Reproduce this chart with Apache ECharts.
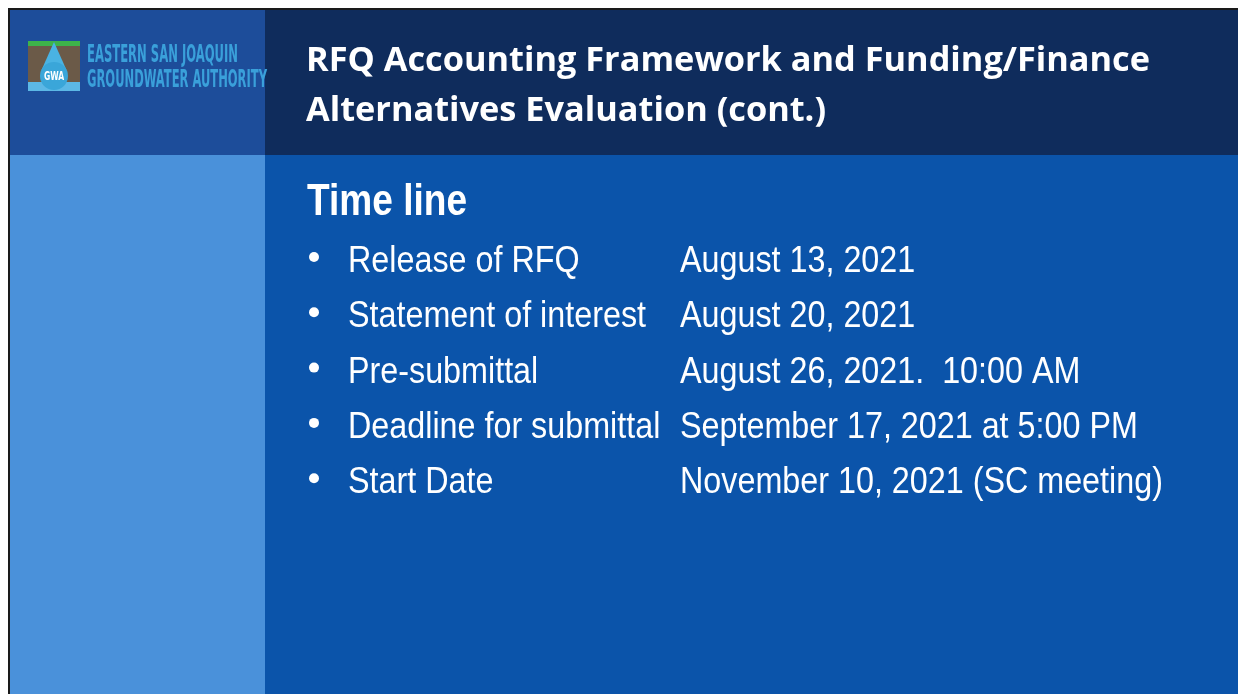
<!DOCTYPE html>
<html><head><meta charset="utf-8">
<script src="https://cdn.jsdelivr.net/npm/echarts@6/dist/echarts.min.js"></script>
<style>html,body{margin:0;padding:0;background:#fff}#c{width:1238px;height:694px}</style>
</head><body><div id="c"></div>
<script>
const titleLines = ['RFQ Accounting Framework and Funding/Finance', 'Alternatives Evaluation (cont.)'];
const orgLines = ['EASTERN SAN JOAQUIN', 'GROUNDWATER AUTHORITY'];
const heading = 'Time line';
const items = ['Release of RFQ', 'Statement of interest', 'Pre-submittal', 'Deadline for submittal', 'Start Date'];
const dates = ['August 13, 2021', 'August 20, 2021', 'August 26, 2021.  10:00 AM', 'September 17, 2021 at 5:00 PM', 'November 10, 2021 (SC meeting)'];

const ctx = document.createElement('canvas').getContext('2d');
function measure(text, font){ ctx.font = font; return ctx.measureText(text).width; }

const chart = echarts.init(document.getElementById('c'), null, {renderer: 'canvas'});
const g = [];
// frame
g.push({type:'rect', shape:{x:8,y:8,width:1232,height:688}, style:{fill:'#1a1a1a'}});
g.push({type:'rect', shape:{x:10,y:10,width:255,height:145}, style:{fill:'#1d4d9a'}});
g.push({type:'rect', shape:{x:265,y:10,width:975,height:145}, style:{fill:'#0f2c5c'}});
g.push({type:'rect', shape:{x:10,y:155,width:255,height:541}, style:{fill:'#4a91da'}});
g.push({type:'rect', shape:{x:265,y:155,width:975,height:541}, style:{fill:'#0b54aa'}});
// logo
g.push({type:'rect', shape:{x:28,y:41,width:52,height:50}, style:{fill:'#6b5a48'}});
g.push({type:'rect', shape:{x:28,y:41,width:52,height:5}, style:{fill:'#3db34a'}});
g.push({type:'rect', shape:{x:28,y:82,width:52,height:9}, style:{fill:'#5cb8e6'}});
g.push({type:'polygon', shape:{points:[[54,42],[41.5,70],[66.5,70]]}, style:{fill:'#4ab3e3'}});
g.push({type:'circle', shape:{cx:54, cy:76, r:14}, style:{fill:'#3aa6d9'}});
g.push({type:'text', x:54, y:77, scaleX:0.85, scaleY:1.2, style:{text:'GWA', x:0, y:0, align:'center', verticalAlign:'middle', font:'bold 10px "DejaVu Sans Condensed", sans-serif', fill:'#ffffff'}});
const orgFont = 'bold 24px "DejaVu Sans Condensed", sans-serif';
const orgTargets = [151, 180];
orgLines.forEach((t,i)=>{
  const sx = orgTargets[i] / measure(t, orgFont);
  g.push({type:'text', x:87, y:[56, 81][i], scaleX:sx, style:{text:t, x:0, y:0, verticalAlign:'middle', font:orgFont, fill:'#3aa0da'}});
});
// title
const titleFont = 'bold 34px "Open Sans", sans-serif';
const tsx = 844 / measure(titleLines[0], titleFont);
titleLines.forEach((t,i)=>{
  g.push({type:'text', x:306, y:[61, 111][i], scaleX:tsx, style:{text:t, x:0, y:0, verticalAlign:'middle', font:titleFont, fill:'#ffffff'}});
});
// heading
const headFont = 'bold 37px "Liberation Sans", Arial, sans-serif';
g.push({type:'text', x:307, y:203, scaleX:160/measure(heading, headFont), scaleY:1.2, style:{text:heading, x:0, y:0, verticalAlign:'middle', font:headFont, fill:'#ffffff'}});
const itemFont = '32.3px "Liberation Sans", Arial, sans-serif';
items.forEach((t,i)=>{
  const base = 272 + i*55.3;
  const y = base - 10.5;
  g.push({type:'circle', shape:{cx:314, cy:base-15, r:5}, style:{fill:'#ffffff'}});
  g.push({type:'text', x:348, y:y, scaleY:1.17, style:{text:t, x:0, y:0, verticalAlign:'middle', font:itemFont, fill:'#ffffff'}});
  g.push({type:'text', x:680, y:y, scaleY:1.17, style:{text:dates[i], x:0, y:0, verticalAlign:'middle', font:itemFont, fill:'#ffffff'}});
});
chart.setOption({animation:false, backgroundColor:'#ffffff', graphic:{elements:g}});
</script></body></html>
